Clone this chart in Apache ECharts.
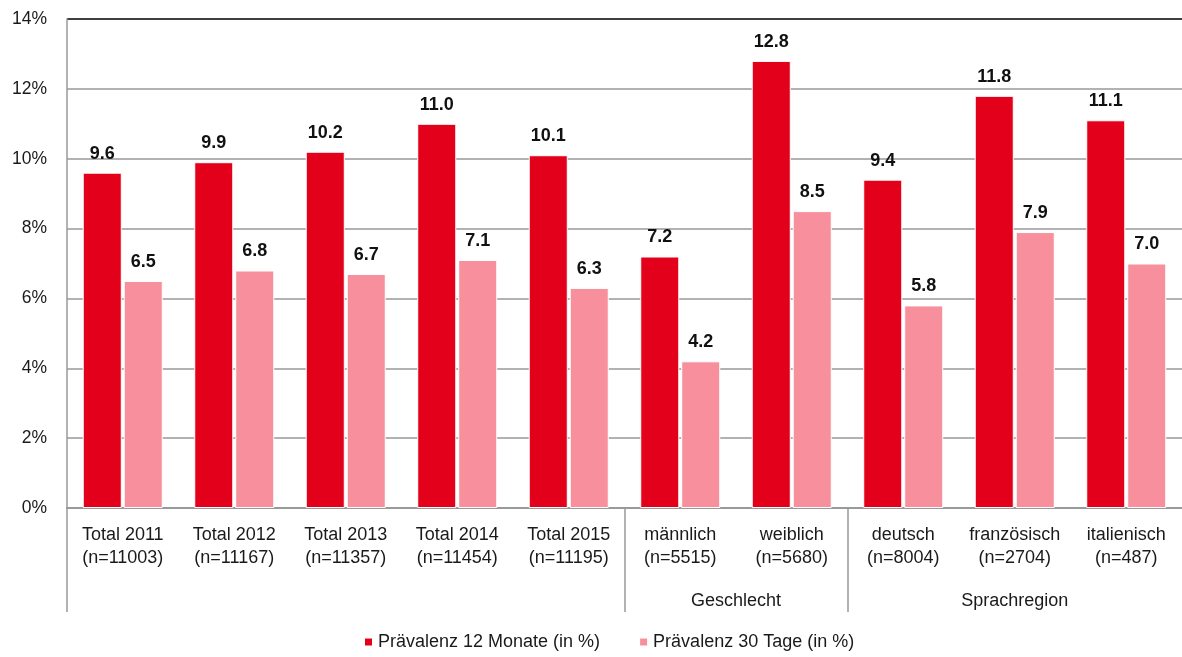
<!DOCTYPE html>
<html><head><meta charset="utf-8">
<script src="https://cdn.jsdelivr.net/npm/echarts@6/dist/echarts.min.js"></script>
<style>html,body{margin:0;padding:0;background:#fff}#c{width:1182px;height:657px}</style>
</head><body><div id="c"></div>
<script>
const categories = ['Total 2011\n(n=11003)','Total 2012\n(n=11167)','Total 2013\n(n=11357)','Total 2014\n(n=11454)','Total 2015\n(n=11195)','männlich\n(n=5515)','weiblich\n(n=5680)','deutsch\n(n=8004)','französisch\n(n=2704)','italienisch\n(n=487)'];
const prev12 = [9.6, 9.9, 10.2, 11.0, 10.1, 7.2, 12.8, 9.4, 11.8, 11.1];
const prev30 = [6.5, 6.8, 6.7, 7.1, 6.3, 4.2, 8.5, 5.8, 7.9, 7.0];
const seriesNames = ['Prävalenz 12 Monate (in %)','Prävalenz 30 Tage (in %)'];
const groupNames = ['Geschlecht','Sprachregion'];
const groupCenters = [6, 8.5];
const groupBounds = [0, 5, 7];

const font = '"Liberation Sans", Arial, sans-serif';
const chart = echarts.init(document.getElementById('c'));
const lbl = {show:true, position:'top', distance:10, fontFamily:font, fontSize:18, fontWeight:'bold', color:'#111', formatter:p=>p.value.toFixed(1)};
chart.setOption({
  animation:false,
  textStyle:{fontFamily:font},
  grid:{left:67, right:0, top:19, bottom:149, containLabel:false},
  legend:{bottom:6, padding:0, left:363, itemWidth:9, itemHeight:9, itemGap:38, icon:'rect',
    textStyle:{fontFamily:font, fontSize:18, color:'#1a1a1a'}, data:seriesNames},
  xAxis:[{
    type:'category', data:categories, position:'bottom',
    axisLine:{lineStyle:{color:'#999', width:2}}, axisTick:{show:false},
    axisLabel:{fontFamily:font, fontSize:18, color:'#1a1a1a', lineHeight:23.5, margin:15, interval:0}
  },{
    type:'value', min:0, max:10, position:'bottom',
    axisLine:{show:false}, splitLine:{show:false},
    axisTick:{show:true, customValues:groupBounds, length:104, lineStyle:{color:'#999', width:1.5}},
    axisLabel:{show:true, customValues:groupCenters, margin:84, fontFamily:font, fontSize:18, color:'#1a1a1a',
      formatter:v=>groupNames[groupCenters.indexOf(v)]}
  }],
  yAxis:{type:'value', min:0, max:14, interval:2,
    axisLine:{show:true, lineStyle:{color:'#999', width:1.5}}, axisTick:{show:false},
    axisLabel:{formatter:'{value}%', fontFamily:font, fontSize:17.5, color:'#1a1a1a', margin:20},
    splitLine:{lineStyle:{color:['#999','#999','#999','#999','#999','#999','#999','#000'], width:1.5}}
  },
  series:[
    {name:seriesNames[0], type:'bar', data:prev12, barWidth:'35%', barGap:'5%', xAxisIndex:0,
     itemStyle:{color:'#E2001A', borderColor:'#fff', borderWidth:1}, label:lbl},
    {name:seriesNames[1], type:'bar', data:prev30, barWidth:'35%', barGap:'5%', xAxisIndex:0,
     itemStyle:{color:'#F7909C', borderColor:'#fff', borderWidth:1}, label:lbl}
  ]
});
</script></body></html>
